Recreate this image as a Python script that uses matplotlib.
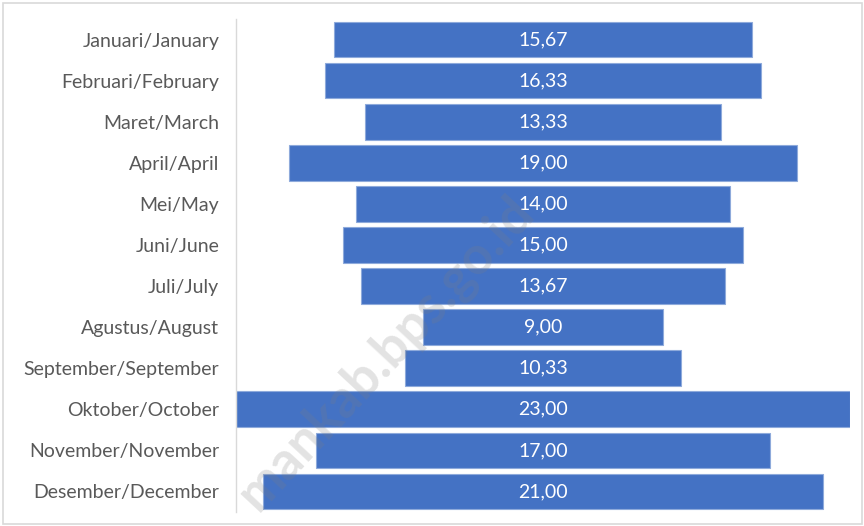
import matplotlib
matplotlib.use("Agg")
import matplotlib.pyplot as plt
from matplotlib.patches import Rectangle

months = ["Januari/January", "Februari/February", "Maret/March", "April/April",
          "Mei/May", "Juni/June", "Juli/July", "Agustus/August",
          "September/September", "Oktober/October", "November/November",
          "Desember/December"]
values = [15.67, 16.33, 13.33, 19.00, 14.00, 15.00, 13.67, 9.00,
          10.33, 23.00, 17.00, 21.00]

BLUE = "#4472C4"
plt.rcParams["font.family"] = ["Lato", "DejaVu Sans"]

fig = plt.figure(figsize=(8.64, 5.26), dpi=100)
ax = fig.add_axes([0.2731, 0.0266, 0.9838 - 0.2731, 0.9639 - 0.0266])

y = list(range(len(months)))
lefts = [-v / 2 for v in values]
ax.barh(y, values, left=lefts, height=0.87, color=BLUE,
        edgecolor="#8EAADB", linewidth=0.8)
for yi, v in zip(y, values):
    ax.text(0, yi, f"{v:.2f}".replace(".", ","), ha="center", va="center",
            color="white", fontsize=14)

ax.set_xlim(-11.5, 11.5)
ax.set_ylim(len(months) - 0.5, -0.5)
ax.set_yticks(y)
ax.set_yticklabels(months, fontsize=14, color="#595959")
ax.tick_params(axis="y", length=0, pad=12)
ax.set_xticks([])
for s in ("top", "right", "bottom"):
    ax.spines[s].set_visible(False)
ax.spines["left"].set_color("#D9D9D9")
ax.spines["left"].set_linewidth(1.0)

# faint watermark
fig.text(0.447, 0.33, "mankab.bps.go.id", rotation=47, fontsize=38,
         fontweight="bold", color="#7F7F7F", alpha=0.22,
         ha="center", va="center")

# outer frame
fig.patches.append(Rectangle((0.004, 0.003), 0.994, 0.991, transform=fig.transFigure,
                             fill=False, edgecolor="#D9D9D9", linewidth=1.2))

fig.savefig("out.png", dpi=100)
